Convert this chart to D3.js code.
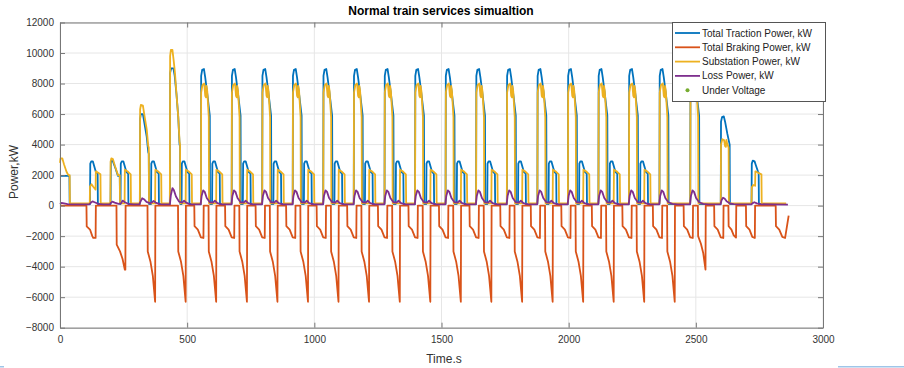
<!DOCTYPE html>
<html><head><meta charset="utf-8">
<script src="https://cdn.jsdelivr.net/npm/d3@7"></script>
<style>body{margin:0;background:#fff}svg{display:block}text{font-family:"Liberation Sans",Arial,Helvetica,sans-serif}</style>
</head><body><svg id="c" width="904" height="368"></svg>
<script>
const xTicks=[0,500,1000,1500,2000,2500,3000];
const yTicks=[-8000,-6000,-4000,-2000,0,2000,4000,6000,8000,10000,12000];
const seriesNames=["Total Traction Power, kW","Total Braking Power, kW","Substation Power, kW","Loss Power, kW","Under Voltage"];
const seriesColors=["#0072BD","#D95319","#EDB120","#7E2F8E","#77AC30"];

// [time s, power kW]
const tractionPower=[
[0,1950],[37,1950],[38,100],
[118,100],[119,2750],[123,2900],[129,2900],[141,2200],[148,2100],[149,100],
[199,100],[200,2850],[204,2950],[208,2900],[218,2450],[228,1950],[235,1950],[236,100],
[238,100],[239,2750],[243,2900],[249,2900],[261,2200],[268,2100],[269,100],
[314,100],[315,5700],[318,6000],[326,6000],[333,5300],[341,4500],[347,3500],[349,3400],[350,100],
[358,100],[359,2750],[363,2900],[369,2900],[381,2200],[388,2100],[389,100],
[432,100],[433,8700],[437,9000],[446,9000],[451,8500],[458,7300],[465,5800],[470,4000],[472,3900],[473,100],
[478,100],[479,2750],[483,2900],[489,2900],[501,2200],[508,2100],[509,100],
[554,100],[555,8500],[559,8900],[566,8950],[571,8400],[580,7200],[589,5900],[590,100],[598,100],[599,2750],[603,2900],[609,2900],[621,2200],[628,2100],[629,100],
[675,100],[676,8500],[680,8900],[687,8950],[692,8400],[701,7200],[710,5900],[711,100],[719,100],[720,2750],[724,2900],[730,2900],[742,2200],[749,2100],[750,100],
[795,100],[796,8500],[800,8900],[807,8950],[812,8400],[821,7200],[830,5900],[831,100],[839,100],[840,2750],[844,2900],[850,2900],[862,2200],[869,2100],[870,100],
[915,100],[916,8500],[920,8900],[927,8950],[932,8400],[941,7200],[950,5900],[951,100],[959,100],[960,2750],[964,2900],[970,2900],[982,2200],[989,2100],[990,100],
[1035,100],[1036,8500],[1040,8900],[1047,8950],[1052,8400],[1061,7200],[1070,5900],[1071,100],[1079,100],[1080,2750],[1084,2900],[1090,2900],[1102,2200],[1109,2100],[1110,100],
[1155,100],[1156,8500],[1160,8900],[1167,8950],[1172,8400],[1181,7200],[1190,5900],[1191,100],[1199,100],[1200,2750],[1204,2900],[1210,2900],[1222,2200],[1229,2100],[1230,100],
[1276,100],[1277,8500],[1281,8900],[1288,8950],[1293,8400],[1302,7200],[1311,5900],[1312,100],[1320,100],[1321,2750],[1325,2900],[1331,2900],[1343,2200],[1350,2100],[1351,100],
[1396,100],[1397,8500],[1401,8900],[1408,8950],[1413,8400],[1422,7200],[1431,5900],[1432,100],[1440,100],[1441,2750],[1445,2900],[1451,2900],[1463,2200],[1470,2100],[1471,100],
[1516,100],[1517,8500],[1521,8900],[1528,8950],[1533,8400],[1542,7200],[1551,5900],[1552,100],[1560,100],[1561,2750],[1565,2900],[1571,2900],[1583,2200],[1590,2100],[1591,100],
[1636,100],[1637,8500],[1641,8900],[1648,8950],[1653,8400],[1662,7200],[1671,5900],[1672,100],[1680,100],[1681,2750],[1685,2900],[1691,2900],[1703,2200],[1710,2100],[1711,100],
[1757,100],[1758,8500],[1762,8900],[1769,8950],[1774,8400],[1783,7200],[1792,5900],[1793,100],[1801,100],[1802,2750],[1806,2900],[1812,2900],[1824,2200],[1831,2100],[1832,100],
[1877,100],[1878,8500],[1882,8900],[1889,8950],[1894,8400],[1903,7200],[1912,5900],[1913,100],[1921,100],[1922,2750],[1926,2900],[1932,2900],[1944,2200],[1951,2100],[1952,100],
[1997,100],[1998,8500],[2002,8900],[2009,8950],[2014,8400],[2023,7200],[2032,5900],[2033,100],[2041,100],[2042,2750],[2046,2900],[2052,2900],[2064,2200],[2071,2100],[2072,100],
[2117,100],[2118,8500],[2122,8900],[2129,8950],[2134,8400],[2143,7200],[2152,5900],[2153,100],[2161,100],[2162,2750],[2166,2900],[2172,2900],[2184,2200],[2191,2100],[2192,100],
[2237,100],[2238,8500],[2242,8900],[2249,8950],[2254,8400],[2263,7200],[2272,5900],[2273,100],[2281,100],[2282,2750],[2286,2900],[2292,2900],[2304,2200],[2311,2100],[2312,100],
[2357,100],[2358,8500],[2362,8900],[2369,8950],[2374,8400],[2383,7200],[2392,5900],[2393,100],
[2478,100],[2479,8500],[2483,8900],[2490,8950],[2495,8400],[2504,7200],[2513,5900],[2514,100],
[2598,100],[2599,5500],[2603,5800],[2610,5850],[2615,5500],[2624,4700],[2633,4000],[2634,100],
[2719,100],[2720,2750],[2724,2950],[2731,2900],[2735,2700],[2744,2250],[2747,2150],[2748,100],[2855,100]
];

const brakingPower=[
[0,0],[104,0],[105,-1360],[118,-1570],[127,-2000],[131,-2120],[140,-2120],[141,0],
[222,0],[223,-2560],[236,-3000],[246,-3500],[255,-4200],[257,-4200],[258,0],
[344,0],[345,-3000],[356,-3700],[365,-4600],[374,-6300],[375,0],
[464,0],[465,-3000],[476,-3700],[485,-4600],[494,-6300],[495,0],
[528,0],[529,-1350],[542,-1570],[554,-2080],[564,-2120],[565,0],[584,0],[585,-3000],[596,-3700],[605,-4600],[614,-6300],[615,0],
[649,0],[650,-1350],[663,-1570],[675,-2080],[685,-2120],[686,0],[705,0],[706,-3000],[717,-3700],[726,-4600],[735,-6300],[736,0],
[769,0],[770,-1350],[783,-1570],[795,-2080],[805,-2120],[806,0],[825,0],[826,-3000],[837,-3700],[846,-4600],[855,-6300],[856,0],
[889,0],[890,-1350],[903,-1570],[915,-2080],[925,-2120],[926,0],[945,0],[946,-3000],[957,-3700],[966,-4600],[975,-6300],[976,0],
[1009,0],[1010,-1350],[1023,-1570],[1035,-2080],[1045,-2120],[1046,0],[1065,0],[1066,-3000],[1077,-3700],[1086,-4600],[1095,-6300],[1096,0],
[1129,0],[1130,-1350],[1143,-1570],[1155,-2080],[1165,-2120],[1166,0],[1185,0],[1186,-3000],[1197,-3700],[1206,-4600],[1215,-6300],[1216,0],
[1250,0],[1251,-1350],[1264,-1570],[1276,-2080],[1286,-2120],[1287,0],[1306,0],[1307,-3000],[1318,-3700],[1327,-4600],[1336,-6300],[1337,0],
[1370,0],[1371,-1350],[1384,-1570],[1396,-2080],[1406,-2120],[1407,0],[1426,0],[1427,-3000],[1438,-3700],[1447,-4600],[1456,-6300],[1457,0],
[1490,0],[1491,-1350],[1504,-1570],[1516,-2080],[1526,-2120],[1527,0],[1546,0],[1547,-3000],[1558,-3700],[1567,-4600],[1576,-6300],[1577,0],
[1610,0],[1611,-1350],[1624,-1570],[1636,-2080],[1646,-2120],[1647,0],[1666,0],[1667,-3000],[1678,-3700],[1687,-4600],[1696,-6300],[1697,0],
[1731,0],[1732,-1350],[1745,-1570],[1757,-2080],[1767,-2120],[1768,0],[1787,0],[1788,-3000],[1799,-3700],[1808,-4600],[1817,-6300],[1818,0],
[1851,0],[1852,-1350],[1865,-1570],[1877,-2080],[1887,-2120],[1888,0],[1907,0],[1908,-3000],[1919,-3700],[1928,-4600],[1937,-6300],[1938,0],
[1971,0],[1972,-1350],[1985,-1570],[1997,-2080],[2007,-2120],[2008,0],[2027,0],[2028,-3000],[2039,-3700],[2048,-4600],[2057,-6300],[2058,0],
[2091,0],[2092,-1350],[2105,-1570],[2117,-2080],[2127,-2120],[2128,0],[2147,0],[2148,-3000],[2159,-3700],[2168,-4600],[2177,-6300],[2178,0],
[2211,0],[2212,-1350],[2225,-1570],[2237,-2080],[2247,-2120],[2248,0],[2267,0],[2268,-3000],[2279,-3700],[2288,-4600],[2297,-6300],[2298,0],
[2331,0],[2332,-1350],[2345,-1570],[2357,-2080],[2367,-2120],[2368,0],[2387,0],[2388,-3000],[2399,-3700],[2408,-4600],[2417,-6300],[2418,0],
[2452,0],[2453,-1350],[2466,-1570],[2478,-2080],[2488,-2120],[2489,0],[2508,0],[2509,-2000],[2520,-2500],[2529,-3100],[2538,-4200],[2539,0],
[2572,0],[2573,-1350],[2586,-1570],[2598,-2080],[2608,-2120],[2609,0],[2628,0],[2629,-1350],[2640,-1570],[2649,-1950],[2658,-2100],[2659,0],
[2697,0],[2698,-1350],[2711,-1570],[2722,-2050],[2732,-2120],[2733,0],
[2814,0],[2815,-1350],[2828,-1570],[2840,-2050],[2851,-2120],[2865,-650]
];

const substationPower=[
[0,2800],[2,3100],[9,3100],[16,2700],[26,2200],[33,2000],[38,2000],[39,150],
[117,150],[118,1250],[124,1400],[130,1250],[140,1050],[141,2250],[150,2150],[159,2050],[160,150],
[198,150],[199,2900],[202,3100],[208,3050],[216,2600],[228,2000],[235,2000],[236,150],[254,150],[255,2350],[265,2250],[278,2050],[279,150],
[314,150],[315,6300],[318,6600],[326,6550],[333,5800],[341,5000],[347,3900],[349,3800],[350,150],[374,150],[375,2350],[385,2250],[398,2050],[399,150],
[432,150],[433,9800],[436,10200],[442,10200],[447,9500],[452,8700],[458,7300],[465,5800],[470,4200],[472,4000],[473,150],[494,150],[495,2350],[505,2250],[518,2050],[519,150],
[554,150],[555,7400],[560,7900],[567,8000],[571,7200],[574,7100],[576,7850],[579,7500],[585,5800],[586,150],[614,150],[615,2350],[625,2250],[638,2050],[639,150],
[675,150],[676,7400],[681,7900],[688,8000],[692,7200],[695,7100],[697,7850],[700,7500],[706,5800],[707,150],[735,150],[736,2350],[746,2250],[759,2050],[760,150],
[795,150],[796,7400],[801,7900],[808,8000],[812,7200],[815,7100],[817,7850],[820,7500],[826,5800],[827,150],[855,150],[856,2350],[866,2250],[879,2050],[880,150],
[915,150],[916,7400],[921,7900],[928,8000],[932,7200],[935,7100],[937,7850],[940,7500],[946,5800],[947,150],[975,150],[976,2350],[986,2250],[999,2050],[1000,150],
[1035,150],[1036,7400],[1041,7900],[1048,8000],[1052,7200],[1055,7100],[1057,7850],[1060,7500],[1066,5800],[1067,150],[1095,150],[1096,2350],[1106,2250],[1119,2050],[1120,150],
[1155,150],[1156,7400],[1161,7900],[1168,8000],[1172,7200],[1175,7100],[1177,7850],[1180,7500],[1186,5800],[1187,150],[1215,150],[1216,2350],[1226,2250],[1239,2050],[1240,150],
[1276,150],[1277,7400],[1282,7900],[1289,8000],[1293,7200],[1296,7100],[1298,7850],[1301,7500],[1307,5800],[1308,150],[1336,150],[1337,2350],[1347,2250],[1360,2050],[1361,150],
[1396,150],[1397,7400],[1402,7900],[1409,8000],[1413,7200],[1416,7100],[1418,7850],[1421,7500],[1427,5800],[1428,150],[1456,150],[1457,2350],[1467,2250],[1480,2050],[1481,150],
[1516,150],[1517,7400],[1522,7900],[1529,8000],[1533,7200],[1536,7100],[1538,7850],[1541,7500],[1547,5800],[1548,150],[1576,150],[1577,2350],[1587,2250],[1600,2050],[1601,150],
[1636,150],[1637,7400],[1642,7900],[1649,8000],[1653,7200],[1656,7100],[1658,7850],[1661,7500],[1667,5800],[1668,150],[1696,150],[1697,2350],[1707,2250],[1720,2050],[1721,150],
[1757,150],[1758,7400],[1763,7900],[1770,8000],[1774,7200],[1777,7100],[1779,7850],[1782,7500],[1788,5800],[1789,150],[1817,150],[1818,2350],[1828,2250],[1841,2050],[1842,150],
[1877,150],[1878,7400],[1883,7900],[1890,8000],[1894,7200],[1897,7100],[1899,7850],[1902,7500],[1908,5800],[1909,150],[1937,150],[1938,2350],[1948,2250],[1961,2050],[1962,150],
[1997,150],[1998,7400],[2003,7900],[2010,8000],[2014,7200],[2017,7100],[2019,7850],[2022,7500],[2028,5800],[2029,150],[2057,150],[2058,2350],[2068,2250],[2081,2050],[2082,150],
[2117,150],[2118,7400],[2123,7900],[2130,8000],[2134,7200],[2137,7100],[2139,7850],[2142,7500],[2148,5800],[2149,150],[2177,150],[2178,2350],[2188,2250],[2201,2050],[2202,150],
[2237,150],[2238,7400],[2243,7900],[2250,8000],[2254,7200],[2257,7100],[2259,7850],[2262,7500],[2268,5800],[2269,150],[2297,150],[2298,2350],[2308,2250],[2321,2050],[2322,150],
[2357,150],[2358,7400],[2363,7900],[2370,8000],[2374,7200],[2377,7100],[2379,7850],[2382,7500],[2388,5800],[2389,150],
[2478,150],[2479,7400],[2484,7900],[2491,8000],[2495,7200],[2498,7100],[2500,7850],[2503,7500],[2509,5800],[2510,150],
[2598,150],[2599,4000],[2604,4350],[2611,4300],[2615,3900],[2618,3850],[2620,4300],[2623,4100],[2629,3800],[2630,150],
[2719,150],[2720,1200],[2726,1350],[2733,1300],[2734,2250],[2745,2150],[2758,2050],[2759,150],[2855,150]
];

const lossPower=[
[0,100],[6,180],[16,150],[30,100],[45,80],
[115,80],[122,200],[128,280],[136,220],[150,120],[170,80],
[196,80],[200,180],[206,260],[215,200],[230,120],[240,150],[247,330],[255,220],[268,120],[290,80],
[312,80],[316,250],[323,480],[330,420],[340,250],[355,150],[362,220],[368,300],[376,200],[392,100],[410,80],
[432,80],[436,700],[442,1150],[448,1000],[456,600],[468,260],[480,200],[488,320],[496,200],[512,80],
[553,80],[557,650],[563,1000],[569,900],[577,500],[589,220],[601,200],[609,320],[619,160],[635,80],
[674,80],[678,650],[684,1000],[690,900],[698,500],[710,220],[722,200],[730,320],[740,160],[756,80],
[794,80],[798,650],[804,1000],[810,900],[818,500],[830,220],[842,200],[850,320],[860,160],[876,80],
[914,80],[918,650],[924,1000],[930,900],[938,500],[950,220],[962,200],[970,320],[980,160],[996,80],
[1034,80],[1038,650],[1044,1000],[1050,900],[1058,500],[1070,220],[1082,200],[1090,320],[1100,160],[1116,80],
[1154,80],[1158,650],[1164,1000],[1170,900],[1178,500],[1190,220],[1202,200],[1210,320],[1220,160],[1236,80],
[1275,80],[1279,650],[1285,1000],[1291,900],[1299,500],[1311,220],[1323,200],[1331,320],[1341,160],[1357,80],
[1395,80],[1399,650],[1405,1000],[1411,900],[1419,500],[1431,220],[1443,200],[1451,320],[1461,160],[1477,80],
[1515,80],[1519,650],[1525,1000],[1531,900],[1539,500],[1551,220],[1563,200],[1571,320],[1581,160],[1597,80],
[1635,80],[1639,650],[1645,1000],[1651,900],[1659,500],[1671,220],[1683,200],[1691,320],[1701,160],[1717,80],
[1756,80],[1760,650],[1766,1000],[1772,900],[1780,500],[1792,220],[1804,200],[1812,320],[1822,160],[1838,80],
[1876,80],[1880,650],[1886,1000],[1892,900],[1900,500],[1912,220],[1924,200],[1932,320],[1942,160],[1958,80],
[1996,80],[2000,650],[2006,1000],[2012,900],[2020,500],[2032,220],[2044,200],[2052,320],[2062,160],[2078,80],
[2116,80],[2120,650],[2126,1000],[2132,900],[2140,500],[2152,220],[2164,200],[2172,320],[2182,160],[2198,80],
[2236,80],[2240,650],[2246,1000],[2252,900],[2260,500],[2272,220],[2284,200],[2292,320],[2302,160],[2318,80],
[2356,80],[2360,650],[2366,1000],[2372,900],[2380,500],[2392,220],[2408,120],[2428,80],
[2477,80],[2481,650],[2487,1000],[2493,900],[2501,500],[2513,220],[2529,120],[2549,80],
[2597,80],[2601,350],[2607,520],[2613,470],[2621,280],[2633,150],[2649,100],[2669,80],
[2718,80],[2722,150],[2730,220],[2740,150],[2755,90],[2862,60]
];

const underVoltage=[];

const svg=d3.select("#c");
const x=d3.scaleLinear().domain([0,3000]).range([60,823]);
const y=d3.scaleLinear().domain([-8000,12000]).range([327.7,22.5]);
const g=svg.append("g");
g.selectAll(".gx").data(xTicks).join("line").attr("x1",d=>x(d)).attr("x2",d=>x(d)).attr("y1",y(-8000)).attr("y2",y(12000)).attr("stroke","#e6e6e6");
g.selectAll(".gy").data(yTicks).join("line").attr("y1",d=>y(d)).attr("y2",d=>y(d)).attr("x1",x(0)).attr("x2",x(3000)).attr("stroke","#e6e6e6");
const line=d3.line().x(d=>x(d[0])).y(d=>y(d[1]));
[tractionPower,brakingPower,substationPower,lossPower].forEach((s,i)=>{
 g.append("path").datum(s).attr("d",line).attr("fill","none").attr("stroke",seriesColors[i]).attr("stroke-width",1.8).attr("stroke-linejoin","round");
});
g.selectAll(".uv").data(underVoltage).join("circle").attr("cx",d=>x(d[0])).attr("cy",d=>y(d[1])).attr("r",2).attr("fill",seriesColors[4]);
const fmt=d3.format("d");
svg.append("g").attr("transform",`translate(0,${y(-8000)})`).call(d3.axisBottom(x).tickValues(xTicks).tickFormat(fmt).tickSizeInner(-5).tickSizeOuter(0).tickPadding(8));
svg.append("g").attr("transform",`translate(${x(0)},0)`).call(d3.axisLeft(y).tickValues(yTicks).tickFormat(fmt).tickSizeInner(-5).tickSizeOuter(0).tickPadding(6));
svg.append("g").attr("transform",`translate(0,${y(12000)})`).call(d3.axisTop(x).tickValues(xTicks).tickSizeInner(-5).tickSizeOuter(0).tickFormat(""));
svg.append("g").attr("transform",`translate(${x(3000)},0)`).call(d3.axisRight(y).tickValues(yTicks).tickSizeInner(-5).tickSizeOuter(0).tickFormat(""));
svg.selectAll(".domain,.tick line").attr("stroke","#777");
svg.selectAll(".tick text").attr("fill","#333").style("font-size","10px");
svg.append("text").attr("x",441).attr("y",15).attr("text-anchor","middle").style("font-size","12px").style("font-weight","bold").text("Normal train services simualtion");
svg.append("text").attr("x",444).attr("y",363).attr("text-anchor","middle").style("font-size","12px").attr("fill","#333").text("Time.s");
svg.append("text").attr("transform","translate(18,172) rotate(-90)").attr("text-anchor","middle").style("font-size","12px").attr("fill","#333").text("Power,kW");
const lg=svg.append("g");
lg.append("rect").attr("x",672.5).attr("y",22.5).attr("width",153).attr("height",79).attr("fill","#fff").attr("stroke","#555");
seriesNames.forEach((n,i)=>{
 const yy=33+i*14.3;
 if(i<4) lg.append("line").attr("x1",675).attr("x2",700).attr("y1",yy).attr("y2",yy).attr("stroke",seriesColors[i]).attr("stroke-width",1.8);
 else lg.append("circle").attr("cx",687.5).attr("cy",yy).attr("r",2).attr("fill",seriesColors[i]);
 lg.append("text").attr("x",702).attr("y",yy+3.5).style("font-size","10px").attr("fill","#222").text(n);
});
svg.append("rect").attr("x",838).attr("y",366).attr("width",66).attr("height",1.5).attr("fill","#9fc5e8");
svg.append("rect").attr("x",0).attr("y",366).attr("width",4).attr("height",1.5).attr("fill","#9fc5e8");
</script></body></html>
